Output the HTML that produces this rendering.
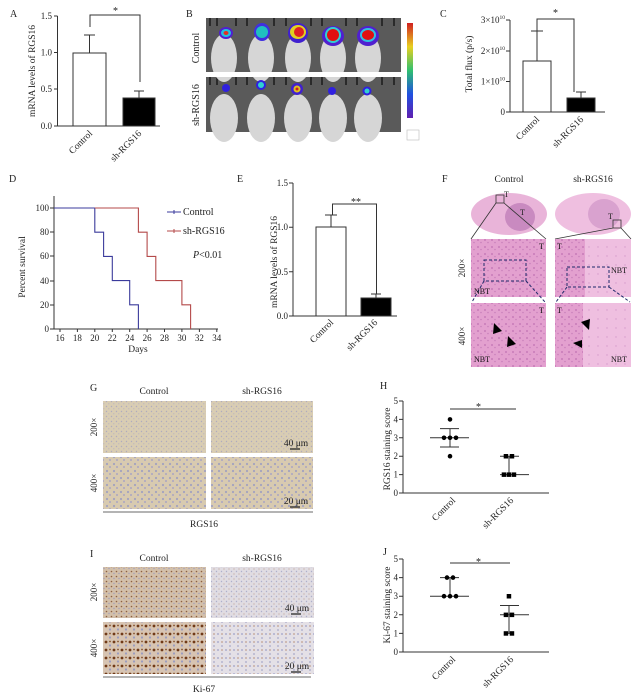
<!DOCTYPE html>
<html><head><meta charset="utf-8"><style>
html,body{margin:0;padding:0;background:#fff;}
svg{display:block;font-family:"Liberation Serif",serif;}
</style></head><body>
<svg width="640" height="695" viewBox="0 0 640 695" xmlns="http://www.w3.org/2000/svg">
<defs>
<pattern id="he" width="7" height="7" patternUnits="userSpaceOnUse"><rect width="7" height="7" fill="#e3a0cf"/><circle cx="2" cy="2" r="0.9" fill="#c071b3"/><circle cx="5" cy="4.5" r="0.8" fill="#c880bb"/></pattern>
<pattern id="he2" width="9" height="9" patternUnits="userSpaceOnUse"><rect width="9" height="9" fill="#efbfe0"/><circle cx="4" cy="4" r="0.7" fill="#d59acb"/></pattern>
<pattern id="ihc" width="5" height="5" patternUnits="userSpaceOnUse"><rect width="5" height="5" fill="#d9cdb3"/><circle cx="1.5" cy="1.5" r="0.7" fill="#b0acbe"/><circle cx="3.8" cy="3.8" r="0.6" fill="#b8b2c2"/></pattern>
<pattern id="ihc4" width="7" height="7" patternUnits="userSpaceOnUse"><rect width="7" height="7" fill="#d8cab0"/><circle cx="2" cy="2" r="1.1" fill="#a3a2c0"/><circle cx="5" cy="5" r="1" fill="#aaa6c2"/></pattern>
<pattern id="ki2c" width="5" height="5" patternUnits="userSpaceOnUse"><rect width="5" height="5" fill="#d3c0aa"/><circle cx="1.5" cy="1.5" r="0.8" fill="#8e6040"/><circle cx="4" cy="3.5" r="0.7" fill="#a09ebb"/></pattern>
<pattern id="ki2s" width="5" height="5" patternUnits="userSpaceOnUse"><rect width="5" height="5" fill="#e0dce2"/><circle cx="1.5" cy="1.5" r="0.7" fill="#aeb0cc"/><circle cx="4" cy="4" r="0.5" fill="#b08a70"/></pattern>
<pattern id="ki4c" width="8" height="8" patternUnits="userSpaceOnUse"><rect width="8" height="8" fill="#d7c4b2"/><circle cx="2" cy="2" r="1.4" fill="#703a18"/><circle cx="6" cy="5.5" r="1.1" fill="#9a9bc0"/><circle cx="6" cy="1.5" r="0.9" fill="#84502a"/></pattern>
<pattern id="ki4s" width="8" height="8" patternUnits="userSpaceOnUse"><rect width="8" height="8" fill="#e4e0e6"/><circle cx="2" cy="2" r="1" fill="#adafcf"/><circle cx="6" cy="6" r="0.9" fill="#a6a8ca"/><circle cx="6" cy="2" r="0.6" fill="#9a5a30"/></pattern>
<linearGradient id="cb" x1="0" y1="0" x2="0" y2="1"><stop offset="0" stop-color="#d02020"/><stop offset="0.25" stop-color="#e8d020"/><stop offset="0.5" stop-color="#30c070"/><stop offset="0.75" stop-color="#2050e0"/><stop offset="1" stop-color="#6020b0"/></linearGradient>
</defs>
<g font-size="10" fill="#222">
<text x="10" y="17">A</text>
<g stroke="#333" stroke-width="1" fill="none">
<path d="M57.5,16V126H160"/>
<path d="M54,16h3.5M54,52.5h3.5M54,89h3.5M54,126h3.5"/>
<rect x="73" y="53" width="33" height="73" fill="#fff"/>
<rect x="123" y="98" width="32" height="28" fill="#000"/>
<path d="M89.5,53V35M84,35h11M139,98V91M134,91h10"/>
<path d="M90,27V15H140V82"/>
</g>
<text x="113" y="14">*</text>
<g font-size="9" text-anchor="end"><text x="52" y="19">1.5</text><text x="52" y="55.5">1.0</text><text x="52" y="92">0.5</text><text x="52" y="129">0.0</text></g>
<text transform="translate(35,71) rotate(-90)" text-anchor="middle" font-size="9.5">mRNA  levels of RGS16</text>
<text transform="translate(93,134) rotate(-45)" text-anchor="end" font-size="9.5">Control</text>
<text transform="translate(142,134) rotate(-45)" text-anchor="end" font-size="9.5">sh-RGS16</text>
<text x="186" y="17">B</text>
<text transform="translate(199,48) rotate(-90)" text-anchor="middle" font-size="10">Control</text>
<text transform="translate(199,105) rotate(-90)" text-anchor="middle" font-size="10">sh-RGS16</text>
<rect x="206" y="18" width="195" height="114" fill="#f2f2f2"/>
<rect x="206" y="18" width="195" height="55" fill="#5a5a5a"/>
<rect x="206" y="77" width="195" height="55" fill="#5a5a5a"/>
<g stroke="#2a2a2a" stroke-width="2">
<path d="M210,18v8M217,18v8M236,18v8M247,18v8M274,18v8M286,18v8M311,18v8M322,18v8M346,18v8M357,18v8M382,18v8M394,18v8"/>
<path d="M210,77v8M217,77v8M236,77v8M247,77v8M274,77v8M286,77v8M311,77v8M322,77v8M346,77v8M357,77v8M382,77v8M394,77v8"/>
</g>
<g fill="#d6d6d6">
<ellipse cx="224" cy="58" rx="13" ry="24"/><ellipse cx="261" cy="58" rx="13" ry="24"/><ellipse cx="298" cy="58" rx="13" ry="24"/><ellipse cx="333" cy="58" rx="13" ry="24"/><ellipse cx="368" cy="58" rx="13" ry="24"/>
<ellipse cx="224" cy="118" rx="14" ry="24"/><ellipse cx="261" cy="118" rx="14" ry="24"/><ellipse cx="298" cy="118" rx="14" ry="24"/><ellipse cx="333" cy="118" rx="14" ry="24"/><ellipse cx="368" cy="118" rx="14" ry="24"/>
</g>
<rect x="206" y="72" width="195" height="5" fill="#fff"/>
<g>
<ellipse cx="226" cy="33" rx="7" ry="6" fill="#5020d0"/><ellipse cx="226" cy="33" rx="5" ry="4" fill="#20c0e0"/><ellipse cx="226" cy="33" rx="2.5" ry="2" fill="#e03020"/>
<ellipse cx="262" cy="32" rx="8" ry="9" fill="#4030e0"/><ellipse cx="262" cy="32" rx="6" ry="6" fill="#20c0c0"/>
<ellipse cx="298" cy="33" rx="10" ry="10" fill="#4020d0"/><ellipse cx="298" cy="32" rx="8" ry="7" fill="#e0d020"/><ellipse cx="299" cy="32" rx="5" ry="5" fill="#e02020"/>
<ellipse cx="333" cy="36" rx="11" ry="10" fill="#5020d0"/><ellipse cx="333" cy="35" rx="8" ry="8" fill="#30d0d0"/><ellipse cx="333" cy="35" rx="6" ry="6" fill="#e01010"/>
<ellipse cx="368" cy="36" rx="11" ry="10" fill="#5020d0"/><ellipse cx="368" cy="35" rx="8" ry="7" fill="#30c0e0"/><ellipse cx="368" cy="35" rx="6" ry="5" fill="#e01010"/>
<circle cx="226" cy="88" r="4" fill="#3020e0"/>
<circle cx="261" cy="85" r="5" fill="#3020e0"/><circle cx="261" cy="85" r="3" fill="#30d0d0"/>
<circle cx="297" cy="89" r="6" fill="#4020d0"/><circle cx="297" cy="89" r="3.5" fill="#e0c020"/><circle cx="297" cy="89" r="1.5" fill="#d02020"/>
<circle cx="332" cy="91" r="4" fill="#3020e0"/>
<circle cx="367" cy="91" r="4.5" fill="#3020e0"/><circle cx="367" cy="91" r="2.5" fill="#30d0d0"/>
</g>
<rect x="407" y="23" width="6" height="95" fill="url(#cb)"/>
<rect x="407" y="130" width="12" height="10" fill="#fff" stroke="#bbb" stroke-width="0.6"/>
<text x="440" y="17">C</text>
<g stroke="#333" stroke-width="1" fill="none">
<path d="M510,20V112H605"/>
<path d="M506,20h4M506,51h4M506,81.5h4M506,112h4"/>
<rect x="523" y="61" width="28" height="51" fill="#fff"/>
<rect x="567" y="98" width="28" height="14" fill="#000"/>
<path d="M537,61V31M531,31h12M581,98V92M576,92h10"/>
<path d="M537,31V19H574V92"/>
</g>
<text x="553" y="16">*</text>
<g font-size="9" text-anchor="end"><text x="505" y="23">3×10<tspan font-size="5.5" dy="-4">10</tspan></text><text x="505" y="54">2×10<tspan font-size="5.5" dy="-4">10</tspan></text><text x="505" y="84.5">1×10<tspan font-size="5.5" dy="-4">10</tspan></text><text x="505" y="115">0</text></g>
<text transform="translate(472,64) rotate(-90)" text-anchor="middle" font-size="9.5">Total flux (p/s)</text>
<text transform="translate(540,120) rotate(-45)" text-anchor="end" font-size="9.5">Control</text>
<text transform="translate(584,120) rotate(-45)" text-anchor="end" font-size="9.5">sh-RGS16</text>
<text x="9" y="182">D</text>
<g stroke="#333" stroke-width="1" fill="none">
<path d="M54,196V329H218"/>
<path d="M50,208h4M50,232h4M50,256h4M50,281h4M50,305h4M50,329h4"/>
<path d="M60,329v3M77.4,329v3M94.8,329v3M112.3,329v3M129.7,329v3M147.1,329v3M164.5,329v3M181.9,329v3M199.4,329v3M216.8,329v3"/>
</g>
<path d="M54,208H94.8V232.2H103.6V256.4H112.3V280.6H129.7V304.8H138.4V329" fill="none" stroke="#3b3b9c" stroke-width="1.1"/>
<path d="M94.8,208H138.4V232.2H147.1V256.4H155.8V280.6H181.9V304.8H190.6V329" fill="none" stroke="#b44a4a" stroke-width="1.1"/>
<g font-size="9" text-anchor="end"><text x="49" y="211">100</text><text x="49" y="235">80</text><text x="49" y="259">60</text><text x="49" y="284">40</text><text x="49" y="308">20</text><text x="49" y="332">0</text></g>
<g font-size="9" text-anchor="middle"><text x="60" y="341">16</text><text x="77.4" y="341">18</text><text x="94.8" y="341">20</text><text x="112.3" y="341">22</text><text x="129.7" y="341">24</text><text x="147.1" y="341">26</text><text x="164.5" y="341">28</text><text x="181.9" y="341">30</text><text x="199.4" y="341">32</text><text x="216.8" y="341">34</text></g>
<text x="138" y="352" text-anchor="middle" font-size="9.5">Days</text>
<text transform="translate(25,267) rotate(-90)" text-anchor="middle" font-size="9.5">Percent survival</text>
<path d="M167,212H181M174,210v4" stroke="#3b3b9c" stroke-width="1"/>
<path d="M167,231H181M174,229v4" stroke="#b44a4a" stroke-width="1"/>
<text x="183" y="215" font-size="10">Control</text>
<text x="183" y="234" font-size="10">sh-RGS16</text>
<text x="193" y="258" font-size="10"><tspan font-style="italic">P</tspan>&lt;0.01</text>
<text x="237" y="182">E</text>
<g stroke="#333" stroke-width="1" fill="none">
<path d="M293,183V316H397"/>
<path d="M289,183h4M289,227.3h4M289,271.7h4M289,316h4"/>
<rect x="316" y="227" width="30" height="89" fill="#fff"/>
<rect x="361" y="298" width="30" height="18" fill="#000"/>
<path d="M331,227V215M325,215h12M376,298V294M371,294h10"/>
<path d="M332.5,215V204H376.5V294"/>
</g>
<text x="351" y="205" font-size="10">**</text>
<g font-size="9" text-anchor="end"><text x="288" y="186">1.5</text><text x="288" y="230">1.0</text><text x="288" y="275">0.5</text><text x="288" y="319">0.0</text></g>
<text transform="translate(277,262) rotate(-90)" text-anchor="middle" font-size="9.5">mRNA  levels of RGS16</text>
<text transform="translate(334,323) rotate(-45)" text-anchor="end" font-size="9.5">Control</text>
<text transform="translate(378,323) rotate(-45)" text-anchor="end" font-size="9.5">sh-RGS16</text>
<text x="442" y="182">F</text>
<text x="509" y="182" text-anchor="middle" font-size="9.5">Control</text>
<text x="593" y="182" text-anchor="middle" font-size="9.5">sh-RGS16</text>
<ellipse cx="509" cy="214" rx="38" ry="21" fill="#e9b4d9"/>
<ellipse cx="520" cy="217" rx="15" ry="14" fill="#c98ac0"/>
<ellipse cx="593" cy="214" rx="38" ry="21" fill="#efbfe0"/>
<ellipse cx="604" cy="214" rx="16" ry="15" fill="#d9a2cf"/>
<text x="504" y="197" font-size="8">T</text><text x="520" y="215" font-size="8">T</text><text x="608" y="219" font-size="8">T</text>
<g fill="none" stroke="#333" stroke-width="0.8">
<rect x="496" y="195" width="8" height="8"/><rect x="613" y="220" width="8" height="8"/>
<path d="M496,203L471,239M504,203L546,239M613,228L555,239M621,228L631,239"/>
</g>
<rect x="471" y="239" width="75" height="58" fill="url(#he)"/>
<rect x="555" y="239" width="76" height="58" fill="url(#he2)"/>
<rect x="555" y="239" width="30" height="58" fill="url(#he)"/>
<rect x="471" y="303" width="75" height="64" fill="url(#he)"/>
<rect x="555" y="303" width="76" height="64" fill="url(#he2)"/>
<rect x="555" y="303" width="28" height="64" fill="url(#he)"/>
<g fill="none" stroke="#1e2a6a" stroke-width="1" stroke-dasharray="3,2">
<rect x="484" y="260" width="42" height="21"/><rect x="567" y="267" width="42" height="20"/>
<path d="M484,281L472,302M526,281L545,302M567,287L556,302M609,287L630,302"/>
</g>
<g font-size="8" fill="#111">
<text x="539" y="249">T</text><text x="557" y="249">T</text><text x="474" y="294">NBT</text><text x="611" y="273">NBT</text>
<text x="539" y="313">T</text><text x="557" y="313">T</text><text x="474" y="362">NBT</text><text x="611" y="362">NBT</text>
</g>
<g fill="#000"><path d="M494,323l8,8l-9,3z"/><path d="M508,336l8,8l-9,3z"/><path d="M590,319l-9,3l8,8z"/><path d="M582,340l-9,3l9,5z"/></g>
<text transform="translate(465,268) rotate(-90)" text-anchor="middle" font-size="9">200×</text>
<text transform="translate(465,336) rotate(-90)" text-anchor="middle" font-size="9">400×</text>
<text x="90" y="391">G</text>
<text x="154" y="394" text-anchor="middle" font-size="9.5">Control</text>
<text x="262" y="394" text-anchor="middle" font-size="9.5">sh-RGS16</text>
<rect x="103" y="401" width="103" height="52" fill="url(#ihc)"/>
<rect x="211" y="401" width="102" height="52" fill="url(#ihc)"/>
<rect x="103" y="457" width="103" height="52" fill="url(#ihc4)"/>
<rect x="211" y="457" width="102" height="52" fill="url(#ihc4)"/>
<text transform="translate(97,427) rotate(-90)" text-anchor="middle" font-size="9">200×</text>
<text transform="translate(97,483) rotate(-90)" text-anchor="middle" font-size="9">400×</text>
<text x="296" y="446" text-anchor="middle" font-size="9.5">40 μm</text>
<text x="296" y="504" text-anchor="middle" font-size="9.5">20 μm</text>
<path d="M290,449h10M290,507h10" stroke="#222" stroke-width="1.2"/>
<path d="M103,512H313" stroke="#888" stroke-width="1.2"/>
<text x="204" y="527" text-anchor="middle" font-size="9.5">RGS16</text>
<text x="380" y="389">H</text>
<g stroke="#333" stroke-width="1" fill="none">
<path d="M403,401V493H549"/>
<path d="M399,401h4M399,419.4h4M399,437.8h4M399,456.2h4M399,474.6h4M399,493h4"/>
<path d="M450,409H516"/>
<path d="M430,437.8H469M450,428.6V447M440,428.6h19M440,447h19"/>
<path d="M500,474.6H529M509,474.6V456.2M500,456.2h19"/>
</g>
<g fill="#000"><circle cx="450" cy="419.4" r="2.3"/><circle cx="444" cy="437.8" r="2.3"/><circle cx="450" cy="437.8" r="2.3"/><circle cx="456" cy="437.8" r="2.3"/><circle cx="450" cy="456.2" r="2.3"/>
<rect x="503.7" y="454" width="4.5" height="4.5"/><rect x="509.7" y="454" width="4.5" height="4.5"/><rect x="501.7" y="472.4" width="4.5" height="4.5"/><rect x="506.7" y="472.4" width="4.5" height="4.5"/><rect x="511.7" y="472.4" width="4.5" height="4.5"/></g>
<text x="476" y="410" font-size="10">*</text>
<g font-size="9" text-anchor="end"><text x="398" y="404">5</text><text x="398" y="422.4">4</text><text x="398" y="440.8">3</text><text x="398" y="459.2">2</text><text x="398" y="477.6">1</text><text x="398" y="496">0</text></g>
<text transform="translate(390,449) rotate(-90)" text-anchor="middle" font-size="9.5">RGS16 staining score</text>
<text transform="translate(456,501) rotate(-45)" text-anchor="end" font-size="9.5">Control</text>
<text transform="translate(514,501) rotate(-45)" text-anchor="end" font-size="9.5">sh-RGS16</text>
<text x="90" y="557">I</text>
<text x="154" y="561" text-anchor="middle" font-size="9.5">Control</text>
<text x="262" y="561" text-anchor="middle" font-size="9.5">sh-RGS16</text>
<rect x="103" y="567" width="103" height="51" fill="url(#ki2c)"/>
<rect x="211" y="567" width="103" height="51" fill="url(#ki2s)"/>
<rect x="103" y="622" width="103" height="52" fill="url(#ki4c)"/>
<rect x="211" y="622" width="103" height="52" fill="url(#ki4s)"/>
<text transform="translate(97,592) rotate(-90)" text-anchor="middle" font-size="9">200×</text>
<text transform="translate(97,648) rotate(-90)" text-anchor="middle" font-size="9">400×</text>
<text x="297" y="611" text-anchor="middle" font-size="9.5">40 μm</text>
<text x="297" y="669" text-anchor="middle" font-size="9.5">20 μm</text>
<path d="M291,614h10M291,672h10" stroke="#222" stroke-width="1.2"/>
<path d="M103,677H311" stroke="#888" stroke-width="1.2"/>
<text x="204" y="692" text-anchor="middle" font-size="9.5">Ki-67</text>
<text x="383" y="555">J</text>
<g stroke="#333" stroke-width="1" fill="none">
<path d="M403,559V652H549"/>
<path d="M399,559h4M399,577.6h4M399,596.2h4M399,614.8h4M399,633.4h4M399,652h4"/>
<path d="M450,563H510"/>
<path d="M430,596.2H469M450,596.2V577.6M440,577.6h19"/>
<path d="M500,614.8H529M509,633.4V605.5M500,605.5h19M504,633.4h10"/>
</g>
<g fill="#000"><circle cx="447" cy="577.6" r="2.3"/><circle cx="453" cy="577.6" r="2.3"/><circle cx="444" cy="596.2" r="2.3"/><circle cx="450" cy="596.2" r="2.3"/><circle cx="456" cy="596.2" r="2.3"/>
<rect x="506.7" y="594" width="4.5" height="4.5"/><rect x="503.7" y="612.6" width="4.5" height="4.5"/><rect x="509.7" y="612.6" width="4.5" height="4.5"/><rect x="503.7" y="631.2" width="4.5" height="4.5"/><rect x="509.7" y="631.2" width="4.5" height="4.5"/></g>
<text x="476" y="565" font-size="10">*</text>
<g font-size="9" text-anchor="end"><text x="398" y="562">5</text><text x="398" y="580.6">4</text><text x="398" y="599.2">3</text><text x="398" y="617.8">2</text><text x="398" y="636.4">1</text><text x="398" y="655">0</text></g>
<text transform="translate(390,605) rotate(-90)" text-anchor="middle" font-size="9.5">Ki-67 staining score</text>
<text transform="translate(456,660) rotate(-45)" text-anchor="end" font-size="9.5">Control</text>
<text transform="translate(514,660) rotate(-45)" text-anchor="end" font-size="9.5">sh-RGS16</text>
</g>
</svg>
</body></html>
